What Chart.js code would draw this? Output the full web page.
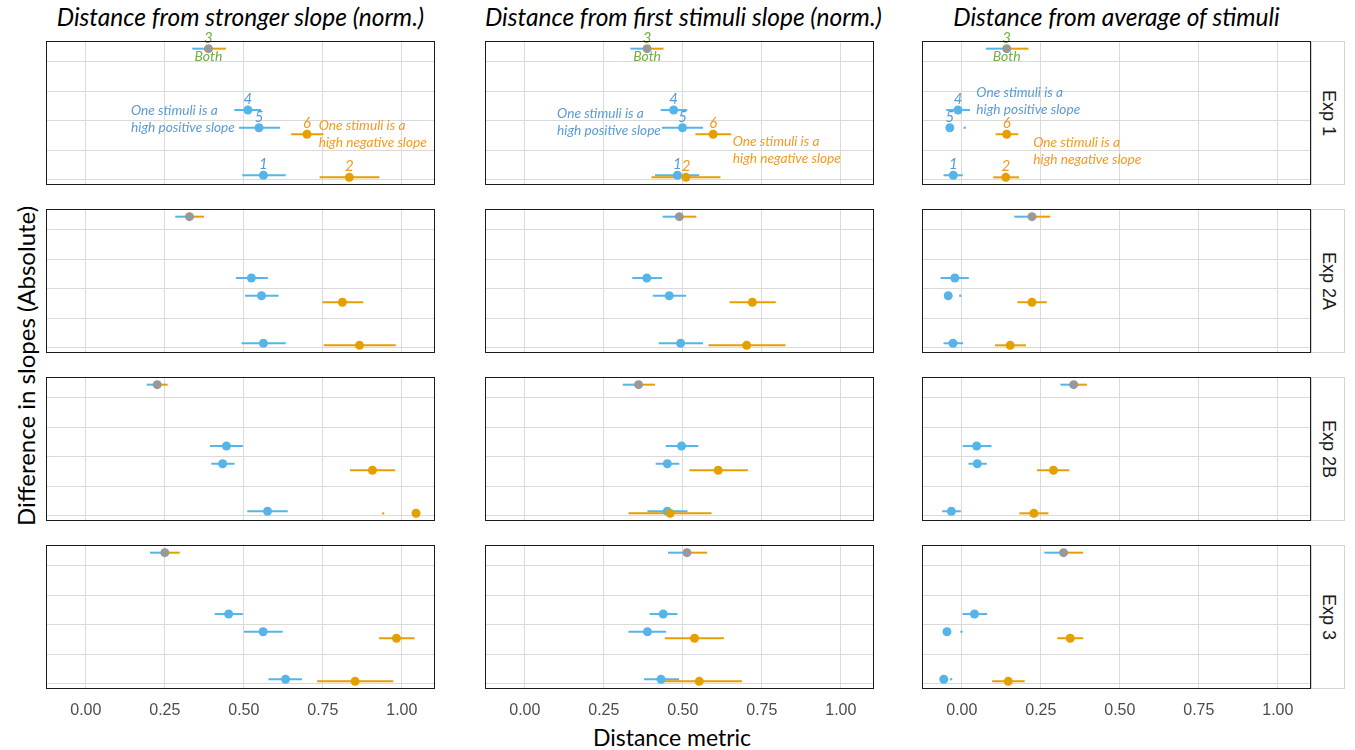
<!DOCTYPE html>
<html>
<head>
<meta charset="utf-8">
<script src="https://cdn.jsdelivr.net/npm/chart.js@4.4.1/dist/chart.umd.min.js"></script>
<style>
  body { margin: 0; width: 1355px; height: 750px; background: #fff; position: relative; overflow: hidden; font-family: Lato, "Noto Sans", sans-serif; }
  canvas { position: absolute; }
  .title { position: absolute; top: 3px; width: 389px; text-align: center; font-style: italic; font-size: 24.5px; line-height: 28px; color: #000; white-space: nowrap; }
  .strip { position: absolute; left: 1311px; width: 34px; height: 144px; box-sizing: border-box; border: 1px solid #d4d4d4; background: #fff;
           display: flex; align-items: center; justify-content: center; writing-mode: vertical-rl;
           font-family: "Liberation Sans", Arial, sans-serif; font-size: 18px; color: #1a1a1a; }
  .ylab { position: absolute; left: 25px; top: 366px; transform: translate(-50%, -50%) rotate(-90deg); font-size: 24px; white-space: nowrap; }
  .xlab { position: absolute; left: 672px; top: 737px; transform: translate(-50%, -50%); font-size: 23px; white-space: nowrap; }
</style>
</head>
<body>
<div class="ylab">Difference in slopes (Absolute)</div>
<div class="xlab">Distance metric</div>
<script>
// groups 1..6, their kind and their position on the (unlabelled) y axis
const groupNames = ['1', '2', '3', '4', '5', '6'];
const groupKind = ['pos', 'neg', 'both', 'pos', 'pos', 'neg'];
const slopeDiff = [0.16, 0.09, 4.45, 2.37, 1.77, 1.55];

const experiments = ['Exp 1', 'Exp 2A', 'Exp 2B', 'Exp 3'];
const metricTitles = ['Distance from stronger slope (norm.)', 'Distance from first stimuli slope (norm.)', 'Distance from average of stimuli'];
const xTicks = [0, 0.25, 0.5, 0.75, 1];
const yGrid = [0, 1, 2, 3, 4];

// estimates and intervals, one row per experiment, columns = groups 1..6
// (hi null: only a stub of the interval is visible, at lo)
const strongerEst = [
  [0.562, 0.834, 0.388, 0.513, 0.548, 0.700],
  [0.562, 0.866, 0.328, 0.524, 0.556, 0.812],
  [0.575, 1.045, 0.226, 0.445, 0.433, 0.907],
  [0.632, 0.852, 0.250, 0.452, 0.561, 0.983]
];
const strongerLo = [
  [0.495, 0.740, 0.337, 0.470, 0.485, 0.650],
  [0.493, 0.753, 0.283, 0.475, 0.504, 0.749],
  [0.511, 0.941, 0.193, 0.393, 0.397, 0.836],
  [0.578, 0.732, 0.203, 0.408, 0.500, 0.928]
];
const strongerHi = [
  [0.633, 0.929, 0.443, 0.555, 0.615, 0.752],
  [0.633, 0.981, 0.374, 0.576, 0.610, 0.878],
  [0.639, null, 0.259, 0.497, 0.471, 0.979],
  [0.684, 0.973, 0.297, 0.497, 0.623, 1.040]
];

const firstEst = [
  [0.483, 0.510, 0.387, 0.471, 0.499, 0.596],
  [0.493, 0.702, 0.489, 0.386, 0.457, 0.720],
  [0.451, 0.460, 0.360, 0.496, 0.451, 0.612],
  [0.431, 0.552, 0.513, 0.438, 0.388, 0.537]
];
const firstLo = [
  [0.412, 0.401, 0.334, 0.430, 0.434, 0.540],
  [0.424, 0.581, 0.436, 0.340, 0.405, 0.648],
  [0.388, 0.328, 0.310, 0.446, 0.414, 0.521],
  [0.377, 0.422, 0.453, 0.395, 0.328, 0.443]
];
const firstHi = [
  [0.552, 0.619, 0.439, 0.514, 0.564, 0.653],
  [0.564, 0.825, 0.543, 0.434, 0.510, 0.794],
  [0.515, 0.591, 0.412, 0.549, 0.489, 0.706],
  [0.488, 0.687, 0.577, 0.483, 0.447, 0.630]
];

const averageEst = [
  [-0.027, 0.139, 0.142, -0.012, -0.038, 0.142],
  [-0.028, 0.153, 0.222, -0.022, -0.043, 0.222],
  [-0.033, 0.228, 0.354, 0.047, 0.049, 0.290],
  [-0.057, 0.147, 0.322, 0.040, -0.047, 0.343]
];
const averageLo = [
  [-0.058, 0.099, 0.076, -0.049, 0.009, 0.107],
  [-0.058, 0.105, 0.166, -0.067, -0.005, 0.176],
  [-0.062, 0.182, 0.312, 0.003, 0.021, 0.238],
  [-0.034, 0.096, 0.261, 0.002, -0.001, 0.302]
];
const averageHi = [
  [0.003, 0.181, 0.211, 0.026, null, 0.179],
  [0.004, 0.203, 0.280, 0.022, null, 0.269],
  [-0.003, 0.274, 0.396, 0.094, 0.079, 0.340],
  [null, 0.199, 0.384, 0.080, null, 0.384]
];

const metricEst = [strongerEst, firstEst, averageEst];
const metricLo = [strongerLo, firstLo, averageLo];
const metricHi = [strongerHi, firstHi, averageHi];

const noteLines = {
  pos: ['One stimuli is a', 'high positive slope'],
  neg: ['One stimuli is a', 'high negative slope']
};

// ---- look ----
const BLUE = '#56B4E9', ORANGE = '#E69F00', GREY = '#999999';
const TXT = { pos: '#5B9BD5', neg: '#F39A1E', both: '#70AD47' };
const pointColor = { pos: BLUE, neg: ORANGE, both: GREY };

const colLeft = [46, 485, 922];
const rowTop = [41, 209, 377, 545];
const PW = 389, PH = 144, PAD = 14, TICKS_H = 30;

// where the explanatory notes sit in the first row (data units)
const notePos = [
  { pos: [0.143, 2.36], neg: [0.737, 1.83] },
  { pos: [0.102, 2.24], neg: [0.658, 1.30] },
  { pos: [0.046, 2.97], neg: [0.226, 1.26] }
];

const whiskers = {
  id: 'whiskers',
  beforeDatasetsDraw(chart) {
    const o = chart.options.plugins.whiskers;
    const { ctx, scales: { x, y } } = chart;
    ctx.save();
    ctx.lineWidth = 2;
    o.est.forEach((e, i) => {
      const py = y.getPixelForValue(slopeDiff[i]);
      const lo = o.lo[i], hi = o.hi[i];
      const kind = groupKind[i];
      if (hi == null) {
        ctx.fillStyle = pointColor[kind];
        ctx.beginPath();
        ctx.arc(x.getPixelForValue(lo), py, 1.2, 0, Math.PI * 2);
        ctx.fill();
        return;
      }
      const seg = (a, b, col) => {
        ctx.strokeStyle = col;
        ctx.beginPath();
        ctx.moveTo(x.getPixelForValue(a), py);
        ctx.lineTo(x.getPixelForValue(b), py);
        ctx.stroke();
      };
      if (kind === 'both') {
        seg(lo, e, BLUE);
        seg(e, hi, ORANGE);
      } else {
        seg(lo, hi, pointColor[kind]);
      }
    });
    ctx.restore();
  }
};

const panelText = {
  id: 'panelText',
  afterDatasetsDraw(chart) {
    const o = chart.options.plugins.panelText;
    const { ctx, chartArea: a, scales: { x, y } } = chart;
    if (o.labels) {
      ctx.save();
      ctx.textAlign = 'center';
      ctx.textBaseline = 'middle';
      o.est.forEach((e, i) => {
        const px = x.getPixelForValue(e), py = y.getPixelForValue(slopeDiff[i]);
        ctx.fillStyle = TXT[groupKind[i]];
        ctx.font = 'italic 15px Lato, "Noto Sans", sans-serif';
        ctx.fillText(groupNames[i], px, py - 11);
        if (groupKind[i] === 'both') {
          ctx.font = 'italic 14px Lato, "Noto Sans", sans-serif';
          ctx.fillText('Both', px, py + 8);
        }
      });
      ctx.textAlign = 'left';
      ctx.font = 'italic 13.7px Lato, "Noto Sans", sans-serif';
      ['pos', 'neg'].forEach(k => {
        const [vx, vy] = o.notes[k];
        const px = x.getPixelForValue(vx), py = y.getPixelForValue(vy);
        ctx.fillStyle = TXT[k];
        noteLines[k].forEach((t, j) => ctx.fillText(t, px, py + j * 17));
      });
      ctx.restore();
    }
    ctx.save();
    ctx.strokeStyle = '#1a1a1a';
    ctx.lineWidth = 1;
    ctx.strokeRect(a.left + 0.5, a.top + 0.5, a.width - 1, a.height - 1);
    ctx.restore();
  }
};

metricTitles.forEach((t, c) => {
  const d = document.createElement('div');
  d.className = 'title';
  d.style.left = colLeft[c] + 'px';
  d.textContent = t;
  document.body.appendChild(d);
});

experiments.forEach((exp, r) => {
  const s = document.createElement('div');
  s.className = 'strip';
  s.style.top = rowTop[r] + 'px';
  s.textContent = exp;
  document.body.appendChild(s);

  for (let c = 0; c < 3; c++) {
    const bottom = r === 3;
    const cv = document.createElement('canvas');
    const W = PW + 2 * PAD, H = PH + 2 * PAD + (bottom ? TICKS_H : 0);
    cv.width = W; cv.height = H;
    cv.style.width = W + 'px'; cv.style.height = H + 'px';
    cv.style.left = (colLeft[c] - PAD) + 'px';
    cv.style.top = (rowTop[r] - PAD) + 'px';
    document.body.appendChild(cv);

    const est = metricEst[c][r];
    new Chart(cv, {
      type: 'scatter',
      data: {
        datasets: [{
          data: est.map((v, i) => ({ x: v, y: slopeDiff[i] })),
          backgroundColor: groupKind.map(k => pointColor[k]),
          borderWidth: 0,
          pointRadius: 4.5,
          pointHoverRadius: 4.5
        }]
      },
      options: {
        responsive: false,
        animation: false,
        events: [],
        layout: { padding: PAD },
        scales: {
          x: {
            type: 'linear', min: -0.126, max: 1.105,
            afterBuildTicks: sc => { sc.ticks = xTicks.map(v => ({ value: v })); },
            afterFit: sc => { sc.height = bottom ? TICKS_H : 0; },
            grid: { color: '#dadada', lineWidth: 1, drawTicks: false },
            border: { display: false },
            ticks: {
              display: bottom, padding: 12, color: '#4d4d4d',
              font: { family: '"Liberation Sans", Arial, sans-serif', size: 16 },
              callback: v => v.toFixed(2)
            }
          },
          y: {
            type: 'linear', min: -0.17, max: 4.71,
            afterBuildTicks: sc => { sc.ticks = yGrid.map(v => ({ value: v })); },
            afterFit: sc => { sc.width = 0; },
            grid: { color: '#dadada', lineWidth: 1, drawTicks: false },
            border: { display: false },
            ticks: { display: false }
          }
        },
        plugins: {
          legend: { display: false },
          tooltip: { enabled: false },
          whiskers: { est, lo: metricLo[c][r], hi: metricHi[c][r] },
          panelText: { labels: r === 0, est, notes: notePos[c] }
        }
      },
      plugins: [whiskers, panelText]
    });
  }
});
</script>
</body>
</html>
